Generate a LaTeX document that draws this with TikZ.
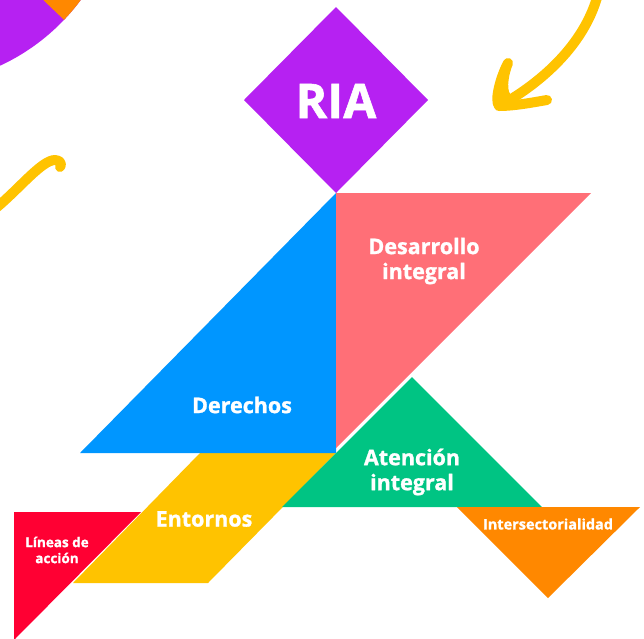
\documentclass[tikz,border=0pt]{standalone}
\usepackage{fontspec}
\setmainfont{Open Sans}[BoldFeatures={FakeBold=1.2}]

\definecolor{riapurple}{HTML}{B621F2}
\definecolor{riablue}{HTML}{0096FF}
\definecolor{riapink}{HTML}{FF6F77}
\definecolor{riagreen}{HTML}{00C483}
\definecolor{riayellow}{HTML}{FFC300}
\definecolor{riared}{HTML}{FF0033}
\definecolor{riaorange}{HTML}{FF8800}

\begin{document}
\begin{tikzpicture}[x=1pt,y=-1pt,
        piece/.style={fill=#1,draw=none},
        label/.style={text=white,font=\bfseries\fontsize{21.5}{25}\selectfont,align=center},
        small label/.style={text=white,font=\bfseries\fontsize{13.5}{16}\selectfont,align=center},
        squiggle/.style={draw=riayellow,line width=10pt,line cap=round,line join=round}]
            \useasboundingbox (0,0) rectangle (644,638);
            \clip (0,0) rectangle (644,638);

            \fill[riapurple] (-88,-125) circle (210);
            \fill[riaorange] (-88,-125) -- (122,-125) arc (0:43.6:210) -- cycle;

            \draw[squiggle] (-4,208) .. controls (20,188) and (42,160) .. (55,160)
                .. controls (61,160) and (62,165) .. (60,167);
            \draw[squiggle] (598,-6) .. controls (586,40) and (548,78) .. (503,104);
            \draw[squiggle] (506,97) .. controls (500,88) and (505,70) .. (508,63)
                .. controls (501,76) and (494,100) .. (499,106)
                .. controls (515,106) and (535,102) .. (547,100);

            \fill[piece=riared] (14,512) -- (141,512) -- (14,640) -- cycle;
            \fill[piece=riayellow] (200,453) -- (336,453) -- (208,583) -- (73,583) -- cycle;
            \fill[piece=riablue] (336,193) -- (336,453) -- (80,453) -- cycle;
            \fill[piece=riapink] (336,193) -- (591,193) -- (336,448) -- cycle;
            \fill[piece=riagreen] (282,507) -- (542,507) -- (412,377) -- cycle;
            \fill[piece=riaorange] (457,507) -- (640,507) -- (548,598) -- cycle;
            \fill[piece=riapurple] (336,7) -- (428,100) -- (336,193) -- (244,100) -- cycle;

            \node (ria) at (336,101) [text=white,font=\bfseries\fontsize{48}{50}\selectfont] {RIA};
            \node (desarrollo) at (424,261) [label] {Desarrollo\\integral};
            \node (derechos) at (242,405) [label] {Derechos};
            \node (atencion) at (412,472) [label] {Atención\\integral};
            \node (entornos) at (204,519) [label] {Entornos};
            \node (lineas) at (57,550) [small label] {Líneas de\\acción};
            \node (intersect) at (548,524) [small label,font=\bfseries\fontsize{14.5}{16}\selectfont] {Intersectorialidad};
        \end{tikzpicture}
\end{document}
